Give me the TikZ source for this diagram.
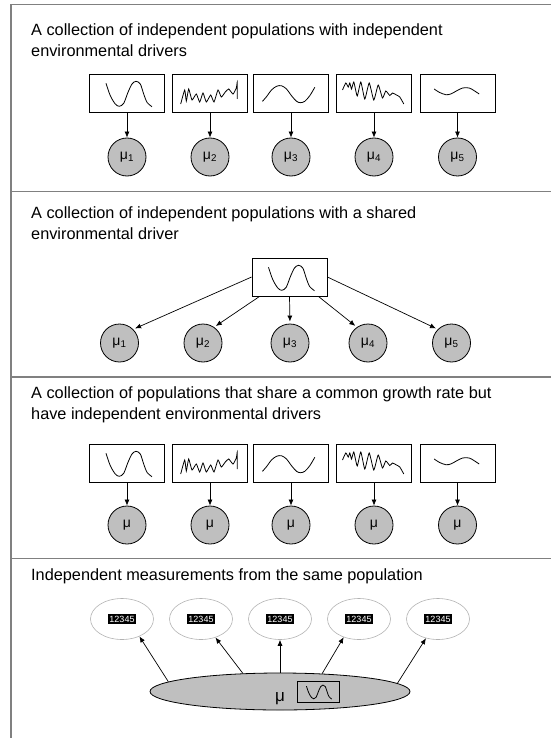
\documentclass[tikz,border=0pt]{standalone}
\usepackage{fontspec}
\setmainfont{Liberation Sans}
\usetikzlibrary{arrows.meta,shapes.geometric}
\newcommand{\wavea}{plot[smooth] coordinates {(-21,-9.7) (-16.7,2.7) (-11.7,11) (-7.7,13.3) (-3.3,10.3) (1,-0.7) (5,-9) (9,-11.7) (13.3,-9) (16.7,1) (20,9.3) (25,13.7)}}
\newcommand{\waveb}{plot[smooth,tension=0.3] coordinates {(-29.3,11) (-25.3,-3) (-23.7,8) (-21.3,-4) (-18,7) (-13.7,1) (-10.3,9) (-7,0) (-3.7,9) (0.7,2) (4,9) (8,-3) (11.3,4) (15.3,-1) (18.7,-4) (23,1) (26.3,-5) (27.3,-11) (27.3,6)}}
\newcommand{\wavec}{plot[smooth] coordinates {(-28.5,8.3) (-24.5,3.7) (-19.5,-3) (-14.5,-6.7) (-9.5,-7.3) (-4.5,-4) (0.5,2.7) (5.5,8.3) (9.5,9.7) (13.8,8.3) (18.8,2.7) (23.8,-5.7)}}
\newcommand{\waved}{plot[smooth,tension=0.3] coordinates {(-31.5,-3) (-28.2,-10) (-25.8,-6) (-24.2,-10) (-22.5,-4) (-20.2,-11) (-16.8,3) (-13.2,-11) (-9.2,6) (-4.8,-10) (-0.2,7) (4.2,-8) (8.5,5) (11.8,-2) (15.8,2.5) (18.5,0) (22.5,2) (25.8,4) (29.8,11)}}
\newcommand{\wavee}{plot[smooth] coordinates {(-23.3,-4) (-18.3,-0.7) (-11.7,1.7) (-6.7,1) (-1.7,-1.7) (5,-5) (11.7,-5) (16.7,-2.3) (21.7,1)}}
\newcommand{\tagged}[1]{\colorbox{black}{\textcolor{white}{#1}}}
\begin{document}
\begin{tikzpicture}[x=1pt,y=-1pt,>={Latex[length=6pt,width=5pt]},
  frame/.style={draw=black!50,line width=1.6pt},
  title/.style={anchor=north west,inner sep=0,align=left,font=\fontsize{16.3}{21}\selectfont},
  drv/.style={draw,line width=0.8pt,minimum width=75pt,minimum height=38pt,inner sep=0},
  pop/.style={circle,draw,line width=0.8pt,fill=black!25,minimum size=38pt,inner sep=0,font=\fontsize{14}{16}\selectfont},
  wave/.style={line width=0.8pt},
  meas/.style={ellipse,draw=black!30,line width=0.6pt,minimum width=63pt,minimum height=41pt,inner sep=0,font=\fontsize{9}{10}\selectfont},
  whole/.style={ellipse,draw,line width=0.8pt,fill=black!25,minimum width=260pt,minimum height=37pt,inner sep=0}]
\useasboundingbox (0,0) rectangle (551,738);
\setlength{\fboxsep}{1.5pt}
% frame
\draw[frame] (10.7,738) -- (10.7,4.7) -- (551,4.7);
\draw[frame] (10.7,191.5) -- (551,191.5);
\draw[frame] (10.7,376.7) -- (551,376.7);
\draw[frame] (10.7,558.3) -- (551,558.3);
% independent drivers
\node[title] (H1) at (31,23) {A collection of independent populations with independent\\environmental drivers};
\node[drv] (D1) at (127,93) {};
\node[drv] (D2) at (210,93) {};
\node[drv] (D3) at (291,93) {};
\node[drv] (D4) at (374,93) {};
\node[drv] (D5) at (457.5,93) {};
\draw[wave,shift={(D1.center)}] \wavea;
\draw[wave,shift={(D2.center)}] \waveb;
\draw[wave,shift={(D3.center)}] \wavec;
\draw[wave,shift={(D4.center)}] \waved;
\draw[wave,shift={(D5.center)}] \wavee;
\node[pop] (P1) at (127,157) {μ\textsubscript{1}};
\node[pop] (P2) at (210,157) {μ\textsubscript{2}};
\node[pop] (P3) at (291,157) {μ\textsubscript{3}};
\node[pop] (P4) at (374,157) {μ\textsubscript{4}};
\node[pop] (P5) at (457.5,157) {μ\textsubscript{5}};
\path[->,line width=0.7pt]
(D1) edge (P1)
(D2) edge (P2)
(D3) edge (P3)
(D4) edge (P4)
(D5) edge (P5);
% shared driver
\node[title] (H2) at (31,206) {A collection of independent populations with a shared\\environmental driver};
\node[drv] (E) at (289.5,277) {};
\draw[wave,shift={(E.center)}] \wavea;
\node[pop] (Q1) at (119.5,343) {μ\textsubscript{1}};
\node[pop] (Q2) at (203,343) {μ\textsubscript{2}};
\node[pop] (Q3) at (290,343) {μ\textsubscript{3}};
\node[pop] (Q4) at (368,343) {μ\textsubscript{4}};
\node[pop] (Q5) at (451.5,343) {μ\textsubscript{5}};
\path[->,line width=0.7pt,shorten >=2pt]
(E.west) edge (Q1.45)
([xshift=8]E.south west) edge (Q2.55)
(E.south) edge (Q3.north)
([xshift=-9]E.south east) edge (Q4.125)
(E.east) edge (Q5.135);
% common growth rate
\node[title] (H3) at (31,386) {A collection of populations that share a common growth rate but\\have independent environmental drivers};
\node[drv] (F1) at (127,463) {};
\node[drv] (F2) at (210,463) {};
\node[drv] (F3) at (291,463) {};
\node[drv] (F4) at (374,463) {};
\node[drv] (F5) at (457.5,463) {};
\draw[wave,shift={(F1.center)}] \wavea;
\draw[wave,shift={(F2.center)}] \waveb;
\draw[wave,shift={(F3.center)}] \wavec;
\draw[wave,shift={(F4.center)}] \waved;
\draw[wave,shift={(F5.center)}] \wavee;
\node[pop] (R1) at (127,525) {μ};
\node[pop] (R2) at (210,525) {μ};
\node[pop] (R3) at (291,525) {μ};
\node[pop] (R4) at (374,525) {μ};
\node[pop] (R5) at (457.5,525) {μ};
\path[->,line width=0.7pt]
(F1) edge (R1)
(F2) edge (R2)
(F3) edge (R3)
(F4) edge (R4)
(F5) edge (R5);
% same population
\node[title] (H4) at (31,568) {Independent measurements from the same population};
\node[meas] (S1) at (122,619) {\tagged{12345}};
\node[meas] (S2) at (201,619) {\tagged{12345}};
\node[meas] (S3) at (280,619) {\tagged{12345}};
\node[meas] (S4) at (359,619) {\tagged{12345}};
\node[meas] (S5) at (438,619) {\tagged{12345}};
\node[whole] (T) at (280,691.5) {};
\node[anchor=base,inner sep=0,font=\fontsize{17}{20}\selectfont] (U) at (280,701) {μ};
\node[drv,minimum width=42pt,minimum height=21pt] (W) at (318,691.5) {};
\draw[wave,shift={(W.center)},scale=0.55] \wavea;
\path[->,line width=0.7pt]
(T.175) edge (S1.-45)
(T.154) edge (S2.-52)
(T.north) edge (S3.south)
(T.23) edge (S4.-130)
(T.4) edge (S5.-122);
\end{tikzpicture}
\end{document}
